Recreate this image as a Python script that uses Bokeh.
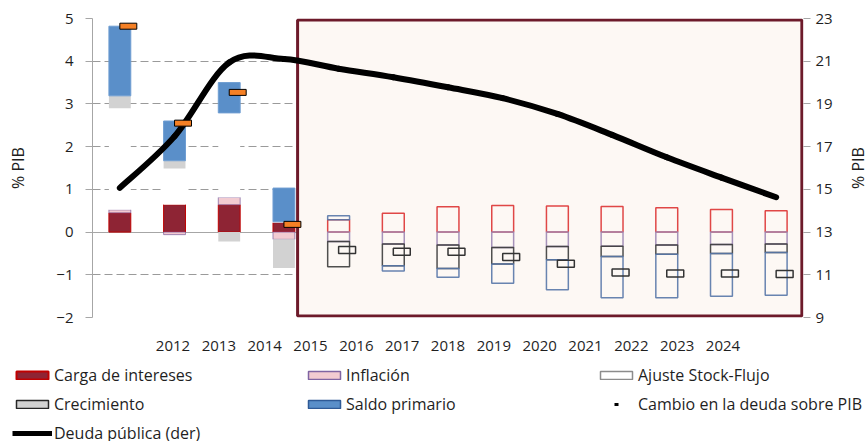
import numpy as np
from bokeh.plotting import figure
from bokeh.layouts import column, row
from bokeh.models import Range1d, LinearAxis, FixedTicker, Legend, LegendItem
from bokeh.embed import file_html
from bokeh.resources import INLINE

# ---------------- data ----------------
years = ["2012", "2013", "2014", "2015", "2016", "2017", "2018",
         "2019", "2020", "2021", "2022", "2023", "2024"]
first_projection = "2016"

carga = [0.45, 0.64, 0.64, 0.22, 0.29, 0.44, 0.59, 0.62, 0.61, 0.60, 0.57, 0.53, 0.50]
inflacion = [0.07, -0.06, 0.17, -0.17, -0.22, -0.28, -0.30, -0.36, -0.34, -0.33, -0.30, -0.29, -0.28]
ajuste = [2.38, 0.85, 1.98, 0.02, 0.0, 0.0, 0.0, 0.0, 0.0, 0.0, 0.0, 0.0, 0.0]
crecimiento = [0.29, 0.18, -0.22, -0.67, -0.59, -0.51, -0.55, -0.39, -0.31, -0.24, -0.22, -0.21, -0.20]
saldo = [1.63, 0.93, 0.71, 0.79, 0.09, -0.12, -0.21, -0.45, -0.70, -0.97, -1.02, -1.00, -1.00]
cambio = [4.82, 2.55, 3.27, 0.18, -0.42, -0.46, -0.46, -0.585, -0.74, -0.945, -0.97, -0.97, -0.98]
deuda = [15.07, 17.48, 20.94, 21.10, 20.65, 20.25, 19.78, 19.27, 18.53, 17.55, 16.50, 15.55, 14.63]

left_ticks = [-2, -1, 0, 1, 2, 3, 4, 5]
right_ticks = [9, 11, 13, 15, 17, 19, 21, 23]

# ---------------- style ----------------
FONT = "Open Sans"
TXT = "#1F1F1F"
AXC = "#A6A6A6"
BAR_W = 0.4
MK_OFF = 0.155
MK_W = 0.31
LABEL_SPACING = 0.838   # spacing of the year labels relative to bar spacing
TOP_H = 361             # height of the chart row; the legend gets the rest of 441

n = len(years)
idx = np.arange(n, dtype=float)
p0 = years.index(first_projection)
proj = idx >= p0
hist = ~proj

series = [("Carga de intereses", carga), ("Inflación", inflacion),
          ("Ajuste Stock-Flujo", ajuste), ("Crecimiento", crecimiento),
          ("Saldo primario", saldo)]

# stacking (positives up, negatives down, in series order)
pos = np.zeros(n)
neg = np.zeros(n)
stacks = {}
for name, vals in series:
    v = np.array(vals, float)
    bottom = np.where(v >= 0, pos, neg)
    top = bottom + v
    pos = np.where(v >= 0, top, pos)
    neg = np.where(v < 0, top, neg)
    stacks[name] = (bottom, top, v)

hist_style = {
    "Carga de intereses": dict(fill_color="#8E2434", line_color="#C00000", line_width=1),
    "Inflación": dict(fill_color="#F2CBD1", line_color="#7A5E9C", line_width=1, line_alpha=0.7),
    "Ajuste Stock-Flujo": dict(fill_color="white", line_color=None),
    "Crecimiento": dict(fill_color="#D2D2D2", line_color=None),
    "Saldo primario": dict(fill_color="#5A8FC9", line_color="#6E9DD2", line_width=1),
}
proj_color = {
    "Carga de intereses": "#DD3333",
    "Inflación": "#9C86B2",
    "Ajuste Stock-Flujo": "#8C8C8C",
    "Crecimiento": "#3C3C3C",
    "Saldo primario": "#5877A8",
}
legend_style = {
    "Carga de intereses": dict(fill_color="#8E2434", line_color="#C00000", line_width=2),
    "Inflación": dict(fill_color="#F2CBD1", line_color="#8064A2", line_width=1.5),
    "Ajuste Stock-Flujo": dict(fill_color="white", line_color="#8C8C8C", line_width=1.5),
    "Crecimiento": dict(fill_color="#D2D2D2", line_color="#262626", line_width=1.5),
    "Saldo primario": dict(fill_color="#5A8FC9", line_color="#2F5A96", line_width=1.5),
}


def style_label(ax, size="16px"):
    ax.axis_label_text_font = FONT
    ax.axis_label_text_font_size = size
    ax.axis_label_text_font_style = "normal"
    ax.axis_label_text_color = TXT


# ---------------- main figure ----------------
p = figure(width=845, height=TOP_H, x_range=Range1d(-0.5, n - 0.5), y_range=Range1d(-2, 5),
           output_backend="svg", toolbar_location=None, x_axis_location=None,
           min_border_left=92, min_border_right=42, min_border_top=18,
           min_border_bottom=TOP_H - 317)
p.background_fill_color = "white"
p.border_fill_color = "white"
p.outline_line_color = None

p.extra_y_ranges = {"der": Range1d(right_ticks[0], right_ticks[-1])}
half = (n / 2) / LABEL_SPACING
p.extra_x_ranges = {"lab": Range1d((n - 1) / 2 - half, (n - 1) / 2 + half)}

# left axis
la = p.left[0]
la.ticker = FixedTicker(ticks=left_ticks)
la.axis_label = "% PIB"
style_label(la)
la.axis_label_standoff = 24
la.major_label_text_font = FONT
la.major_label_text_font_size = "15px"
la.major_label_text_color = TXT
la.major_label_standoff = 12
la.major_tick_out = 7
la.major_tick_in = 0
la.minor_tick_out = 0
la.minor_tick_in = 0
la.axis_line_color = AXC
la.major_tick_line_color = AXC

# right axis (ticks only; its title is drawn in the side panel below)
ra = LinearAxis(y_range_name="der", ticker=FixedTicker(ticks=right_ticks))
ra.major_label_text_font = FONT
ra.major_label_text_font_size = "15px"
ra.major_label_text_color = TXT
ra.major_label_standoff = 5
ra.major_tick_out = 7
ra.major_tick_in = 0
ra.minor_tick_out = 0
ra.minor_tick_in = 0
ra.axis_line_color = None
ra.major_tick_line_color = AXC
p.add_layout(ra, "right")

# bottom (year labels)
xa = LinearAxis(x_range_name="lab", ticker=FixedTicker(ticks=list(range(n))))
xa.major_label_overrides = {i: y for i, y in enumerate(years)}
xa.axis_line_color = None
xa.major_tick_line_color = None
xa.minor_tick_line_color = None
xa.major_tick_out = 0
xa.major_label_standoff = 23
xa.major_label_text_font = FONT
xa.major_label_text_font_size = "15px"
xa.major_label_text_color = TXT
p.add_layout(xa, "below")

# grid
p.xgrid.visible = False
p.ygrid.grid_line_color = "#9A9A9A"
p.ygrid.grid_line_dash = "8 4"
p.ygrid.grid_line_width = 1

# zero line
p.hspan(y=[0], line_color=AXC, line_width=1)

# projection box
p.quad(left=[p0 - 0.75], right=[n - 0.5 - 0.03], top=[5 - 0.035], bottom=[-2 + 0.035],
       fill_color="#FDF8F4", line_color="#6D1A2A", line_width=3)

# bars
for name, _ in series:
    b, t, v = stacks[name]
    mh = hist & (v != 0)
    p.vbar(x=idx[mh], width=BAR_W, bottom=b[mh], top=t[mh], **hist_style[name])
for name, _ in series:
    b, t, v = stacks[name]
    mp = proj & (v != 0)
    if mp.any():
        p.vbar(x=idx[mp], width=BAR_W, bottom=b[mp], top=t[mp], fill_alpha=0,
               line_color=proj_color[name], line_width=1.5, line_alpha=0.9)

# debt line (smoothed)
d = np.array(deuda, float)
xp = np.concatenate([[idx[0]], idx, [idx[-1]]])
yp = np.concatenate([[d[0]], d, [d[-1]]])
cx0 = idx[:-1] + (xp[2:n + 1] - xp[0:n - 1]) / 6
cy0 = d[:-1] + (yp[2:n + 1] - yp[0:n - 1]) / 6
cx1 = idx[1:] - (xp[3:n + 2] - xp[1:n]) / 6
cy1 = d[1:] - (yp[3:n + 2] - yp[1:n]) / 6
p.bezier(x0=idx[:-1], y0=d[:-1], x1=idx[1:], y1=d[1:], cx0=cx0, cy0=cy0, cx1=cx1, cy1=cy1,
         line_color="black", line_width=6, line_cap="round", y_range_name="der")

# change markers
cm = np.array(cambio, float)
p.rect(x=idx[hist] + MK_OFF, y=cm[hist], width=MK_W, height=6, height_units="screen",
       fill_color="#F58025", line_color="black", line_width=1)
p.rect(x=idx[proj] + MK_OFF, y=cm[proj], width=MK_W, height=7, height_units="screen",
       fill_alpha=0, line_color="#333333", line_width=1.5)

# ---------------- right-hand title panel (reads bottom-to-top) ----------------
side = figure(width=23, height=TOP_H, x_range=Range1d(0, 1),
              y_range=Range1d(right_ticks[0], right_ticks[-1]),
              output_backend="svg", toolbar_location=None, x_axis_location=None,
              min_border_left=22, min_border_right=0, min_border_top=18,
              min_border_bottom=TOP_H - 317)
side.grid.visible = False
side.outline_line_color = None
side.background_fill_color = "white"
side.border_fill_color = "white"
sa = side.left[0]
sa.ticker = FixedTicker(ticks=[])
sa.axis_line_color = None
sa.major_tick_line_color = None
sa.minor_tick_line_color = None
sa.major_tick_out = 0
sa.minor_tick_out = 0
sa.major_label_standoff = 0
sa.axis_label = "% PIB"
style_label(sa)
sa.axis_label_standoff = 0

# ---------------- legend figure ----------------
LEG_H = 441 - TOP_H
lg = figure(width=868, height=LEG_H, x_range=Range1d(0, 1), y_range=Range1d(0, 1),
            output_backend="svg", toolbar_location=None,
            x_axis_location=None, y_axis_location=None,
            min_border_left=0, min_border_right=0, min_border_top=0, min_border_bottom=0)
lg.grid.visible = False
lg.outline_line_color = None
lg.background_fill_color = "white"
lg.border_fill_color = "white"
for fig in (p, side, lg):
    try:
        fig.frame_align = False
    except Exception:
        pass

items = []
for name, _ in series:
    b, t, v = stacks[name]
    r = lg.vbar(x=idx, width=BAR_W, bottom=b, top=t, visible=False, **legend_style[name])
    items.append(LegendItem(label=name, renderers=[r]))
rc = lg.scatter(x=idx + MK_OFF, y=cm, marker="dash", size=5, line_color="black",
                line_width=3, visible=False)
items.append(LegendItem(label="Cambio en la deuda sobre PIB", renderers=[rc]))
rd = lg.line(x=idx, y=d, line_color="black", line_width=5, visible=False)
items.append(LegendItem(label="Deuda pública (der)", renderers=[rd]))

legend = Legend(items=items, location=(12, -3), orientation="horizontal", ncols=3,
                glyph_width=40, glyph_height=10, label_standoff=2, label_width=243,
                label_height=21, spacing=7, padding=0, margin=0,
                border_line_color=None, background_fill_alpha=0,
                label_text_font=FONT, label_text_font_size="16px", label_text_color=TXT)
lg.add_layout(legend, "center")

layout = column(row(p, side, spacing=0), lg, spacing=0)

with open("out.html", "w", encoding="utf-8") as f:
    f.write(file_html(layout, INLINE))
